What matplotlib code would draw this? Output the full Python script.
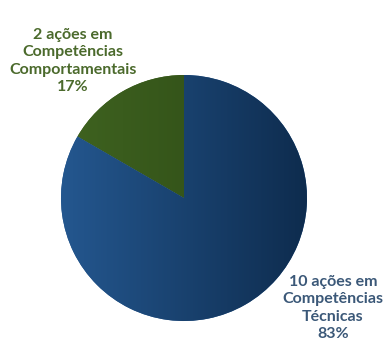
import matplotlib
matplotlib.use("Agg")
import matplotlib.pyplot as plt
import numpy as np
from matplotlib.colors import LinearSegmentedColormap

categories = ["Comportamentais", "Técnicas"]
counts = [2, 10]
percents = [17, 83]
grad_left = ["#3f6320", "#24578f"]
grad_right = ["#2b4714", "#0e2c4e"]
text_colors = ["#4b6a2c", "#3b5878"]

W, H = 386, 347
fig = plt.figure(figsize=(W / 100, H / 100), dpi=100)
ax = fig.add_axes([0, 0, 1, 1])

cx, cy, r = 184, H - 198, 123
wedges, _ = ax.pie(counts, startangle=90, counterclock=True, center=(cx, cy),
                   radius=r, frame=True, wedgeprops=dict(linewidth=0))
ax.set_xlim(0, W)
ax.set_ylim(0, H)
ax.set_aspect("equal")
ax.axis("off")

grad = np.linspace(0, 1, 256).reshape(1, -1)
for w, c0, c1 in zip(wedges, grad_left, grad_right):
    cmap = LinearSegmentedColormap.from_list("g", [c0, c1])
    w.set_facecolor(c0)
    im = ax.imshow(grad, cmap=cmap, extent=(cx - r, cx + r, cy - r, cy + r),
                   aspect="auto", zorder=w.get_zorder() + 0.1)
    im.set_clip_path(w)

label_pos = [(73, H - 61), (333, H - 308)]
for cat, n, p, col, (x, y) in zip(categories, counts, percents, text_colors, label_pos):
    txt = f"{n} ações em\nCompetências\n{cat}\n{p}%"
    ax.text(x, y, txt, ha="center", va="center", color=col, fontsize=11.5,
            fontweight="bold", family=["Lato", "DejaVu Sans"], linespacing=1.3)

fig.savefig("out.png", dpi=100)
